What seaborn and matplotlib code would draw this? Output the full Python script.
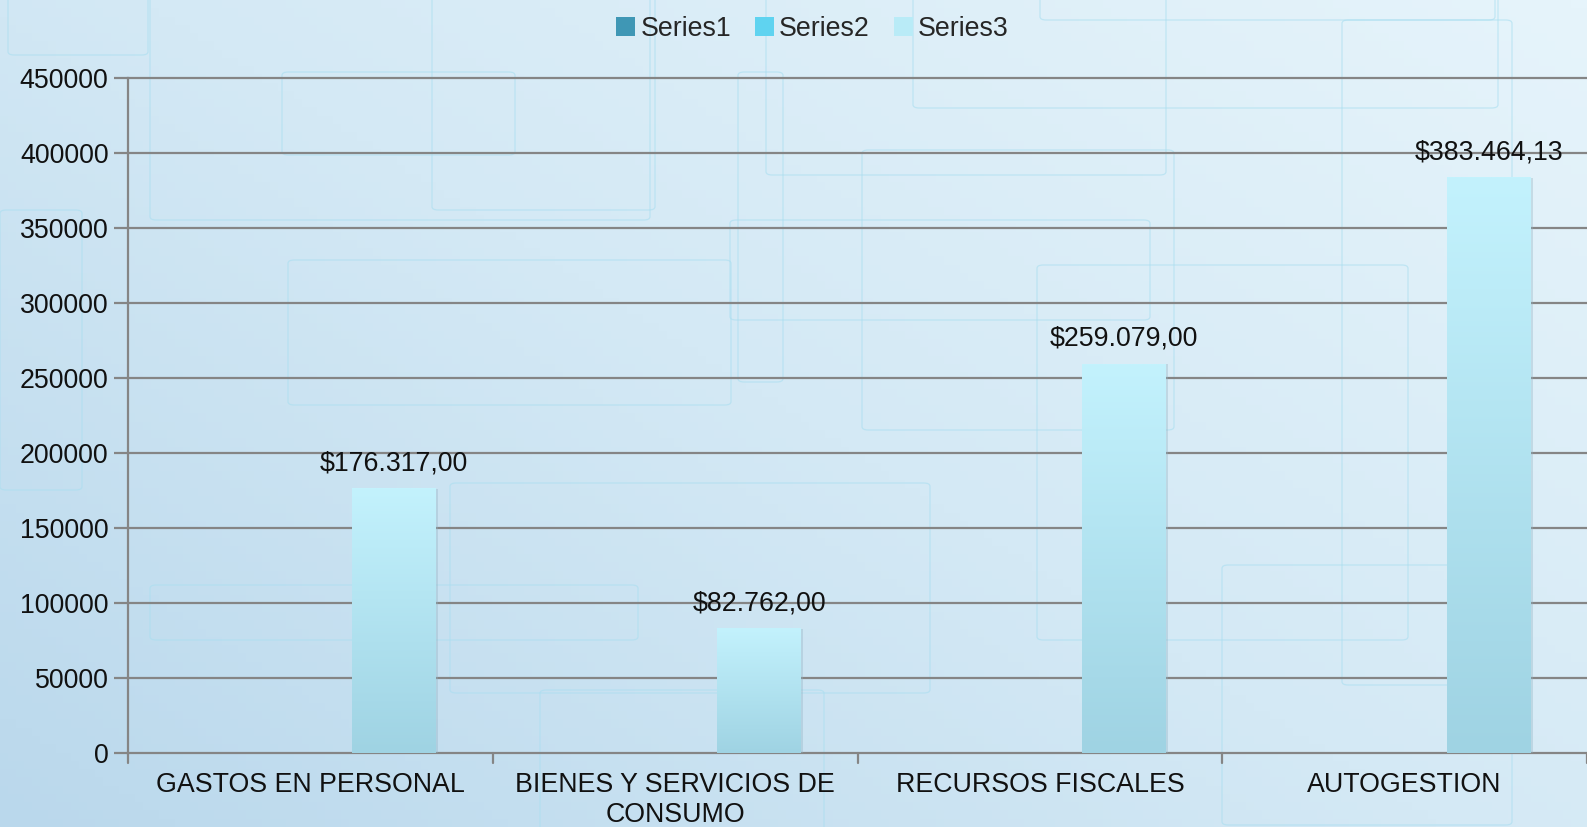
import numpy as np
import pandas as pd
import matplotlib.pyplot as plt
import matplotlib.patches as mpatches
from matplotlib.colors import LinearSegmentedColormap
import seaborn as sns

# chart data
categories = ['GASTOS EN PERSONAL', 'BIENES Y SERVICIOS DE\nCONSUMO',
              'RECURSOS FISCALES', 'AUTOGESTION']
series_names = ['Series1', 'Series2', 'Series3']
series1 = [0, 0, 0, 0]
series2 = [0, 0, 0, 0]
series3 = [176317.00, 82762.00, 259079.00, 383464.13]
value_labels = ['$176.317,00', '$82.762,00', '$259.079,00', '$383.464,13']
y_ticks = [0, 50000, 100000, 150000, 200000, 250000, 300000, 350000, 400000, 450000]

series_colors = ['#3f97b5', '#5fd3f0', '#b9ebf7']

df = pd.DataFrame({
    'category': categories * 3,
    'series': [s for s in series_names for _ in categories],
    'value': series1 + series2 + series3,
})

sns.set_theme(style='white')
plt.rcParams['font.family'] = ['Liberation Sans', 'DejaVu Sans']
FS = 19.3

W, H = 1587, 827
fig = plt.figure(figsize=(W / 100, H / 100), dpi=100)

# background gradient
bg = fig.add_axes([0, 0, 1, 1], zorder=-2)
gx, gy = np.meshgrid(np.linspace(0, 1, 200), np.linspace(0, 1, 100))
t = np.clip(0.55 * gx + 0.45 * (1 - gy), 0, 1)
bg_cmap = LinearSegmentedColormap.from_list('bg', ['#bad8ec', '#d4e9f5', '#e6f4fb'])
bg.imshow(t, cmap=bg_cmap, aspect='auto', extent=[0, 1, 0, 1], origin='upper')
bg.set_xlim(0, 1)
bg.set_ylim(0, 1)
bg.axis('off')

# decorative rounded frames (background ornament)
frames = [(282, 72, 233, 83), (432, -10, 223, 220), (150, -10, 500, 230),
          (738, 72, 45, 310), (288, 260, 443, 145), (730, 220, 420, 100),
          (1040, -10, 455, 30), (913, -10, 585, 118), (766, -10, 400, 185),
          (862, 150, 312, 280), (1037, 265, 371, 375), (1342, 20, 170, 665),
          (450, 483, 480, 210), (1222, 565, 290, 260), (150, 585, 488, 55),
          (540, 690, 284, 150), (0, 210, 82, 280), (8, -10, 140, 65)]
for (fx, fy, fw, fh) in frames:
    r = mpatches.FancyBboxPatch((fx / W, 1 - (fy + fh) / H), fw / W, fh / H,
                                boxstyle='round,pad=0,rounding_size=0.004',
                                transform=bg.transAxes, fill=False,
                                edgecolor='#a9def0', linewidth=0.9, alpha=0.6)
    bg.add_patch(r)

ax = fig.add_axes([128 / W, 1 - 753 / H, 1 - 128 / W, (753 - 78) / H])
ax.set_facecolor('none')

sns.barplot(data=df, x='category', y='value', hue='series', order=categories,
            hue_order=series_names, palette=series_colors, width=0.69,
            saturation=1, ax=ax, legend=True, zorder=3)

# gradient fill on bars
bar_cmap = LinearSegmentedColormap.from_list('bar', ['#9fd3e3', '#c3f2fd'])
grad = np.linspace(0, 1, 256).reshape(-1, 1)
for p in list(ax.patches):
    h = p.get_height()
    p.set_visible(False)
    if h <= 0:
        continue
    x0 = p.get_x()
    w = p.get_width()
    ax.add_patch(mpatches.Rectangle((x0 + 0.006, 0), w, h, facecolor='#8fb2c2',
                                    edgecolor='none', alpha=0.35, zorder=3))
    ax.imshow(grad, cmap=bar_cmap, origin='lower', aspect='auto',
              extent=[x0, x0 + w, 0, h], zorder=4)
ax.set_ylim(0, 450000)
ax.set_xlim(-0.5, 3.5)

# data labels
for i, (v, lab) in enumerate(zip(series3, value_labels)):
    ax.text(i + 0.23, v + 17000, lab, ha='center', va='center',
            fontsize=FS, color='#111111', zorder=5)

ax.set_yticks(y_ticks)
ax.set_yticklabels([str(v) for v in y_ticks], fontsize=FS, color='#111111')
for v in y_ticks[1:]:
    ax.axhline(v, color='#858585', linewidth=1.6, zorder=1, clip_on=False)
ax.set_xticks(range(len(categories)))
ax.set_xticklabels(categories, fontsize=FS, color='#111111', linespacing=1.2)
ax.tick_params(axis='x', length=0, pad=14)
for b in np.arange(-0.5, 3.6, 1.0):
    ax.plot([b, b], [0, -0.015], transform=ax.get_xaxis_transform(),
            color='#858585', linewidth=1.6, clip_on=False, zorder=5)
ax.tick_params(axis='y', length=10, width=1.6, color='#858585', pad=4, left=True)
ax.set_xlabel('')
ax.set_ylabel('')
for side in ['top', 'right']:
    ax.spines[side].set_visible(False)
ax.spines['left'].set_color('#858585')
ax.spines['left'].set_linewidth(1.6)
ax.spines['bottom'].set_color('#858585')
ax.spines['bottom'].set_linewidth(1.6)

ax.get_legend().remove()
handles = [mpatches.Patch(facecolor=c, edgecolor='none') for c in series_colors]
fig.legend(handles, series_names, loc='upper center', bbox_to_anchor=(0.512, 1.01),
           ncol=3, frameon=False, fontsize=FS, handlelength=0.7, handleheight=0.7,
           handletextpad=0.2, columnspacing=0.9)

fig.savefig('out.png', dpi=100)
